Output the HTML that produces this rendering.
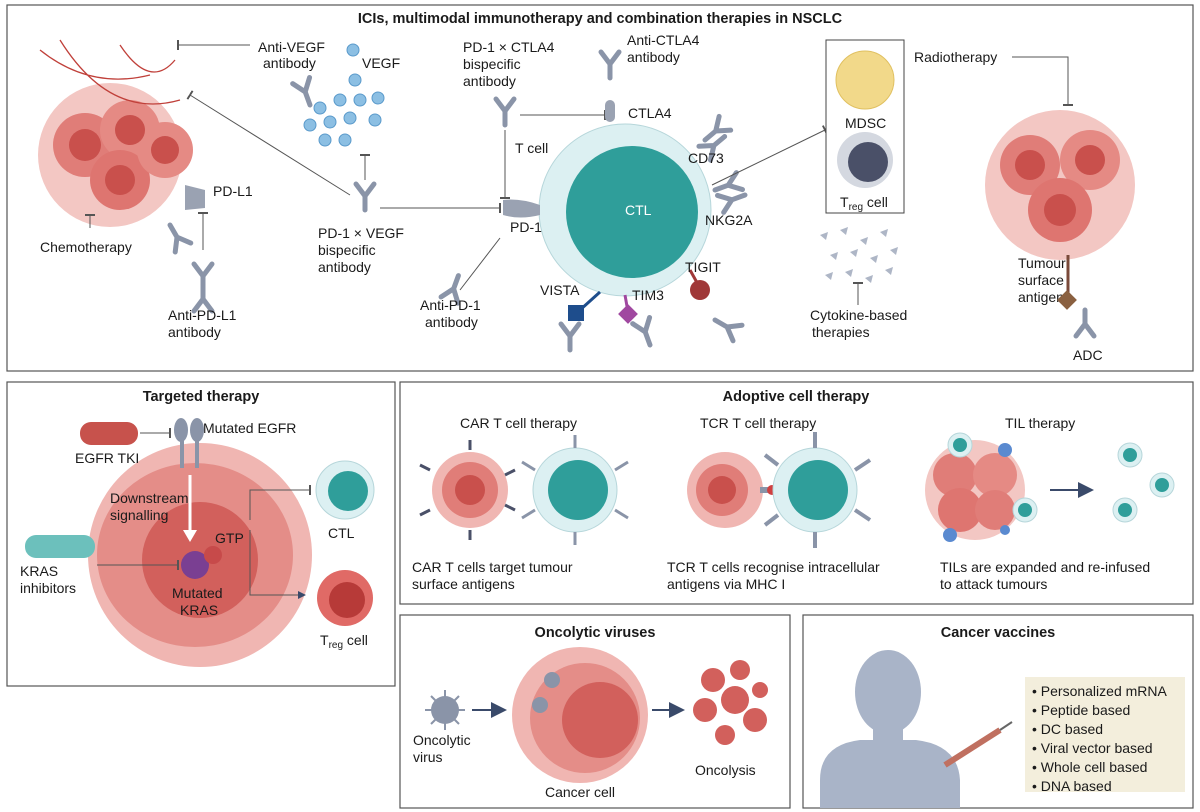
<!DOCTYPE html>
<html><head><meta charset="utf-8"><style>
html,body{margin:0;padding:0;background:#fff;}
svg{display:block;font-family:"Liberation Sans",sans-serif;}
text{font-size:14px;fill:#1a1a1a;}
.t{font-weight:bold;font-size:14.5px;}
</style></head><body>
<svg width="1200" height="812" viewBox="0 0 1200 812" xmlns="http://www.w3.org/2000/svg">
<defs>
<marker id="bar" markerWidth="2" markerHeight="10" refX="1" refY="5" orient="auto"><rect x="0" y="0" width="2" height="10" fill="#555"/></marker>
<marker id="arr" markerWidth="8" markerHeight="8" refX="7" refY="4" orient="auto"><path d="M0,0L8,4L0,8z" fill="#3a4a6a"/></marker>
<g id="ab"><path d="M0,0 L0,-14 M0,-14 L-9,-26 M0,-14 L9,-26" stroke="#8a94a8" stroke-width="5" fill="none" stroke-linecap="round"/></g>
</defs>
<g fill="none" stroke="#555" stroke-width="1.2">
<rect x="7" y="5" width="1186" height="366"/>
<rect x="7" y="382" width="388" height="304"/>
<rect x="400" y="382" width="793" height="222"/>
<rect x="400" y="615" width="390" height="193"/>
<rect x="803" y="615" width="390" height="193"/>
</g>
<text x="600" y="23" text-anchor="middle" class="t">ICIs, multimodal immunotherapy and combination therapies in NSCLC</text>
<text x="201" y="401" text-anchor="middle" class="t">Targeted therapy</text>
<text x="796" y="401" text-anchor="middle" class="t">Adoptive cell therapy</text>
<text x="595" y="637" text-anchor="middle" class="t">Oncolytic viruses</text>
<text x="998" y="637" text-anchor="middle" class="t">Cancer vaccines</text>

<g>
<circle cx="110" cy="155" r="72" fill="#f3c7c3"/>
<circle cx="85" cy="145" r="32" fill="#e07d78"/>
<circle cx="130" cy="130" r="30" fill="#e58a84"/>
<circle cx="120" cy="180" r="30" fill="#de7570"/>
<circle cx="165" cy="150" r="28" fill="#e58a84"/>
<circle cx="85" cy="145" r="16" fill="#c9504c"/>
<circle cx="130" cy="130" r="15" fill="#c9504c"/>
<circle cx="120" cy="180" r="15" fill="#c9504c"/>
<circle cx="165" cy="150" r="14" fill="#c9504c"/>
<path d="M40,50 Q90,90 150,75 M60,40 Q110,120 180,100 M120,45 Q150,90 175,60" stroke="#c0403a" stroke-width="1.3" fill="none"/>
</g>
<path d="M185,185 L205,190 L205,208 L185,210 Z" fill="#9aa2b2"/>
<text x="213" y="196">PD-L1</text>
<use href="#ab" x="170" y="225" transform="rotate(150 170 225)"/>
<line x1="90" y1="215" x2="90" y2="228" stroke="#555" marker-start="url(#bar)"/>
<text x="40" y="252">Chemotherapy</text>
<line x1="203" y1="213" x2="203" y2="250" stroke="#555" marker-start="url(#bar)"/>
<use href="#ab" x="203" y="290"/>
<g transform="rotate(180 203 270)"><use href="#ab" x="203" y="255"/></g>
<text x="168" y="320">Anti-PD-L1</text><text x="168" y="337">antibody</text>
<text x="258" y="52">Anti-VEGF</text><text x="263" y="68">antibody</text>
<line x1="250" y1="45" x2="178" y2="45" stroke="#555" marker-end="url(#bar)"/>
<use href="#ab" x="310" y="105" transform="rotate(-20 310 105)"/>
<g fill="#8cbfe3" stroke="#5a9acb">
<circle cx="320" cy="108" r="6"/><circle cx="340" cy="100" r="6"/><circle cx="310" cy="125" r="6"/><circle cx="330" cy="122" r="6"/><circle cx="350" cy="118" r="6"/><circle cx="355" cy="80" r="6"/><circle cx="345" cy="140" r="6"/><circle cx="378" cy="98" r="6"/><circle cx="360" cy="100" r="6"/><circle cx="375" cy="120" r="6"/><circle cx="353" cy="50" r="6"/><circle cx="325" cy="140" r="6"/>
</g>
<text x="362" y="68">VEGF</text>
<line x1="365" y1="155" x2="365" y2="180" stroke="#555" marker-start="url(#bar)"/>
<use href="#ab" x="365" y="210"/>
<line x1="350" y1="195" x2="190" y2="95" stroke="#555" marker-end="url(#bar)"/>
<line x1="380" y1="208" x2="500" y2="208" stroke="#555" marker-end="url(#bar)"/>
<text x="318" y="238">PD-1 × VEGF</text><text x="318" y="255">bispecific</text><text x="318" y="272">antibody</text>
<text x="463" y="52">PD-1 × CTLA4</text><text x="463" y="69">bispecific</text><text x="463" y="86">antibody</text>
<use href="#ab" x="505" y="125"/>
<line x1="520" y1="115" x2="605" y2="115" stroke="#555" marker-end="url(#bar)"/>
<line x1="505" y1="130" x2="505" y2="198" stroke="#555" marker-end="url(#bar)"/>
<text x="627" y="45">Anti-CTLA4</text><text x="627" y="62">antibody</text>
<use href="#ab" x="610" y="78"/>
<rect x="605" y="100" width="10" height="22" rx="5" fill="#9aa2b2"/>
<text x="628" y="118">CTLA4</text>
<circle cx="625" cy="210" r="86" fill="#dcf0f2" stroke="#b6d6da"/>
<circle cx="632" cy="212" r="66" fill="#2f9e9a"/>
<text x="625" y="215" style="fill:#fff">CTL</text>
<text x="515" y="153">T cell</text>
<path d="M503,200 Q520,198 540,205 L540,215 Q520,220 503,215Z" fill="#9aa2b2"/>
<text x="510" y="232">PD-1</text>
<line x1="500" y1="238" x2="460" y2="290" stroke="#555"/>
<use href="#ab" x="455" y="295" transform="rotate(200 455 285)"/>
<text x="420" y="310">Anti-PD-1</text><text x="425" y="327">antibody</text>
<use href="#ab" x="705" y="140" transform="rotate(50 705 140)"/>
<use href="#ab" x="700" y="125" transform="rotate(-130 715 125)"/>
<text x="688" y="163">CD73</text>
<use href="#ab" x="715" y="190" transform="rotate(70 715 190)"/>
<use href="#ab" x="745" y="195" transform="rotate(-110 745 195)"/>
<text x="705" y="225">NKG2A</text>
<line x1="690" y1="270" x2="700" y2="288" stroke="#a03838" stroke-width="3"/><circle cx="700" cy="290" r="10" fill="#a03838"/>
<text x="685" y="272">TIGIT</text>
<use href="#ab" x="715" y="320" transform="rotate(120 715 320)"/>
<line x1="600" y1="292" x2="580" y2="310" stroke="#1e4d8c" stroke-width="3"/><rect x="568" y="305" width="16" height="16" fill="#1e4d8c"/>
<text x="540" y="295">VISTA</text>
<use href="#ab" x="570" y="350"/>
<line x1="625" y1="295" x2="628" y2="312" stroke="#a048a0" stroke-width="3"/><rect x="621" y="307" width="14" height="14" fill="#a048a0" transform="rotate(45 628 314)"/>
<text x="632" y="300">TIM3</text>
<use href="#ab" x="650" y="345" transform="rotate(-20 650 345)"/>
<line x1="712" y1="185" x2="825" y2="130" stroke="#555" marker-end="url(#bar)"/>
<rect x="826" y="40" width="78" height="173" fill="#fff" stroke="#444"/>
<circle cx="865" cy="80" r="29" fill="#f2d98a" stroke="#e0c060"/>
<text x="845" y="128">MDSC</text>
<circle cx="865" cy="160" r="28" fill="#d4d8e0"/><circle cx="868" cy="162" r="20" fill="#4a5068"/>
<text x="840" y="207">T<tspan font-size="10" dy="3">reg</tspan><tspan dy="-3"> cell</tspan></text>
<g fill="#aeb6c6">
<path d="M820,235l8,-3l-2,8z"/><path d="M840,230l8,-3l-2,8z"/><path d="M860,240l8,-3l-2,8z"/><path d="M880,232l8,-3l-2,8z"/>
<path d="M830,255l8,-3l-2,8z"/><path d="M850,252l8,-3l-2,8z"/><path d="M870,258l8,-3l-2,8z"/><path d="M890,250l8,-3l-2,8z"/>
<path d="M825,275l8,-3l-2,8z"/><path d="M845,272l8,-3l-2,8z"/><path d="M865,278l8,-3l-2,8z"/><path d="M885,270l8,-3l-2,8z"/>
</g>
<line x1="858" y1="283" x2="858" y2="305" stroke="#555" marker-start="url(#bar)"/>
<text x="810" y="320">Cytokine-based</text><text x="812" y="337">therapies</text>
<text x="914" y="62">Radiotherapy</text>
<polyline points="1012,57 1068,57 1068,105" fill="none" stroke="#555" marker-end="url(#bar)"/>
<circle cx="1060" cy="185" r="75" fill="#f3c7c3"/>
<circle cx="1030" cy="165" r="30" fill="#e07d78"/><circle cx="1090" cy="160" r="30" fill="#e58a84"/><circle cx="1060" cy="210" r="32" fill="#de7570"/>
<circle cx="1030" cy="165" r="15" fill="#c9504c"/><circle cx="1090" cy="160" r="15" fill="#c9504c"/><circle cx="1060" cy="210" r="16" fill="#c9504c"/>
<text x="1018" y="268">Tumour</text><text x="1018" y="285">surface</text><text x="1018" y="302">antigen</text>
<line x1="1068" y1="255" x2="1068" y2="295" stroke="#7a4a3a" stroke-width="3"/>
<rect x="1060" y="293" width="14" height="14" fill="#8a6040" transform="rotate(45 1067 300)"/>
<use href="#ab" x="1085" y="340" transform="rotate(180 1085 325)"/>
<text x="1073" y="360">ADC</text>

<!-- Targeted therapy -->
<circle cx="200" cy="555" r="112" fill="#f0b6b2"/>
<ellipse cx="195" cy="555" rx="98" ry="92" fill="#e48d88"/>
<circle cx="200" cy="560" r="58" fill="#d2605c"/>
<rect x="80" y="422" width="58" height="23" rx="11" fill="#c7524c"/>
<text x="75" y="463">EGFR TKI</text>
<line x1="140" y1="433" x2="170" y2="433" stroke="#555" marker-end="url(#bar)"/>
<ellipse cx="181" cy="430" rx="7" ry="12" fill="#8a94a8"/><ellipse cx="197" cy="430" rx="7" ry="12" fill="#8a94a8"/>
<rect x="180" y="440" width="4" height="28" fill="#8a94a8"/><rect x="195" y="440" width="4" height="28" fill="#8a94a8"/>
<text x="203" y="433">Mutated EGFR</text>
<line x1="190" y1="475" x2="190" y2="535" stroke="#fff" stroke-width="3"/><path d="M183,530L190,542L197,530z" fill="#fff"/>
<text x="110" y="503">Downstream</text><text x="110" y="520">signalling</text>
<circle cx="195" cy="565" r="14" fill="#7a3f92"/><circle cx="213" cy="555" r="9" fill="#c74a4a"/>
<text x="215" y="543">GTP</text>
<text x="172" y="598">Mutated</text><text x="180" y="615">KRAS</text>
<rect x="25" y="535" width="70" height="23" rx="11" fill="#6cc0bc"/>
<text x="20" y="576">KRAS</text><text x="20" y="593">inhibitors</text>
<line x1="97" y1="565" x2="178" y2="565" stroke="#555" marker-end="url(#bar)"/>
<polyline points="250,520 250,490 310,490" fill="none" stroke="#555" marker-end="url(#bar)"/>
<polyline points="250,530 250,595 305,595" fill="none" stroke="#555" marker-end="url(#arr)"/>
<circle cx="345" cy="490" r="29" fill="#dcf0f2" stroke="#b6d6da"/><circle cx="348" cy="491" r="20" fill="#2f9e9a"/>
<text x="328" y="538">CTL</text>
<circle cx="345" cy="598" r="28" fill="#e06a66"/><circle cx="347" cy="600" r="18" fill="#b73a38"/>
<text x="320" y="645">T<tspan font-size="10" dy="3">reg</tspan><tspan dy="-3"> cell</tspan></text>

<!-- Adoptive -->
<text x="460" y="428">CAR T cell therapy</text>
<circle cx="470" cy="490" r="38" fill="#f0b6b2"/><circle cx="470" cy="490" r="28" fill="#e07d78"/><circle cx="470" cy="490" r="15" fill="#c9504c"/>
<g stroke="#4a5068" stroke-width="3"><line x1="430" y1="470" x2="420" y2="465"/><line x1="430" y1="510" x2="420" y2="515"/><line x1="470" y1="450" x2="470" y2="440"/><line x1="470" y1="530" x2="470" y2="540"/><line x1="505" y1="475" x2="515" y2="470"/><line x1="505" y1="505" x2="515" y2="510"/></g>
<circle cx="575" cy="490" r="42" fill="#dcf0f2" stroke="#b6d6da"/><circle cx="578" cy="490" r="30" fill="#2f9e9a"/>
<g stroke="#8a94a8" stroke-width="3"><line x1="575" y1="448" x2="575" y2="435"/><line x1="575" y1="532" x2="575" y2="545"/><line x1="535" y1="470" x2="522" y2="462"/><line x1="535" y1="510" x2="522" y2="518"/><line x1="615" y1="470" x2="628" y2="462"/><line x1="615" y1="510" x2="628" y2="518"/></g>
<text x="412" y="572">CAR T cells target tumour</text><text x="412" y="589">surface antigens</text>
<text x="700" y="428">TCR T cell therapy</text>
<circle cx="725" cy="490" r="38" fill="#f0b6b2"/><circle cx="722" cy="490" r="26" fill="#e07d78"/><circle cx="722" cy="490" r="14" fill="#c9504c"/>
<line x1="760" y1="490" x2="775" y2="490" stroke="#8a94a8" stroke-width="6"/><circle cx="772" cy="490" r="5" fill="#d04040"/>
<circle cx="815" cy="490" r="42" fill="#dcf0f2" stroke="#b6d6da"/><circle cx="818" cy="490" r="30" fill="#2f9e9a"/>
<g stroke="#8a94a8" stroke-width="4"><line x1="815" y1="448" x2="815" y2="432"/><line x1="815" y1="532" x2="815" y2="548"/><line x1="855" y1="470" x2="870" y2="460"/><line x1="855" y1="510" x2="870" y2="520"/><line x1="778" y1="465" x2="765" y2="455"/><line x1="778" y1="515" x2="765" y2="525"/></g>
<text x="667" y="572">TCR T cells recognise intracellular</text><text x="667" y="589">antigens via MHC I</text>
<text x="1005" y="428">TIL therapy</text>
<circle cx="975" cy="490" r="50" fill="#f3c7c3"/><circle cx="955" cy="475" r="22" fill="#e07d78"/><circle cx="995" cy="475" r="22" fill="#e58a84"/><circle cx="960" cy="510" r="22" fill="#de7570"/><circle cx="995" cy="510" r="20" fill="#e07d78"/>
<g fill="#dcf0f2" stroke="#b6d6da"><circle cx="960" cy="445" r="12"/><circle cx="1025" cy="510" r="12"/><circle cx="1130" cy="455" r="12"/><circle cx="1125" cy="510" r="12"/><circle cx="1162" cy="485" r="12" /></g>
<g fill="#2f9e9a"><circle cx="960" cy="445" r="7"/><circle cx="1025" cy="510" r="7"/><circle cx="1130" cy="455" r="7"/><circle cx="1125" cy="510" r="7"/><circle cx="1162" cy="485" r="7"/></g>
<g fill="#5a8ad0"><circle cx="1005" cy="450" r="7"/><circle cx="950" cy="535" r="7"/><circle cx="1005" cy="530" r="5"/></g>
<line x1="1050" y1="490" x2="1092" y2="490" stroke="#3a4a6a" stroke-width="2" marker-end="url(#arr)"/>
<text x="940" y="572">TILs are expanded and re-infused</text><text x="940" y="589">to attack tumours</text>

<!-- Oncolytic -->
<circle cx="445" cy="710" r="14" fill="#8a94a8"/>
<g stroke="#8a94a8" stroke-width="2"><line x1="425" y1="710" x2="465" y2="710"/><line x1="445" y1="690" x2="445" y2="730"/><line x1="431" y1="696" x2="459" y2="724"/><line x1="459" y1="696" x2="431" y2="724"/></g>
<text x="413" y="745">Oncolytic</text><text x="413" y="762">virus</text>
<line x1="472" y1="710" x2="505" y2="710" stroke="#3a4a6a" stroke-width="2" marker-end="url(#arr)"/>
<circle cx="580" cy="715" r="68" fill="#f0b6b2"/><circle cx="585" cy="718" r="55" fill="#e48d88"/><circle cx="600" cy="720" r="38" fill="#d2605c"/>
<circle cx="552" cy="680" r="8" fill="#8a94a8"/><circle cx="540" cy="705" r="8" fill="#8a94a8"/>
<text x="545" y="797">Cancer cell</text>
<line x1="652" y1="710" x2="683" y2="710" stroke="#3a4a6a" stroke-width="2" marker-end="url(#arr)"/>
<g fill="#d2605c"><circle cx="713" cy="680" r="12"/><circle cx="740" cy="670" r="10"/><circle cx="705" cy="710" r="12"/><circle cx="735" cy="700" r="14"/><circle cx="755" cy="720" r="12"/><circle cx="725" cy="735" r="10"/><circle cx="760" cy="690" r="8"/></g>
<text x="695" y="775">Oncolysis</text>

<!-- Vaccines -->
<ellipse cx="888" cy="692" rx="33" ry="42" fill="#a9b4c8"/>
<rect x="873" y="725" width="30" height="20" fill="#a9b4c8"/>
<path d="M820,808 L820,780 Q820,745 860,740 L916,740 Q958,745 960,780 L960,808 Z" fill="#a9b4c8"/>
<line x1="945" y1="765" x2="1000" y2="730" stroke="#c07060" stroke-width="6"/>
<line x1="1000" y1="730" x2="1012" y2="722" stroke="#666" stroke-width="2"/>
<rect x="1025" y="677" width="160" height="115" fill="#f3eedc"/>
<g font-size="14"><text x="1032" y="696">• Personalized mRNA</text><text x="1032" y="715">• Peptide based</text><text x="1032" y="734">• DC based</text><text x="1032" y="753">• Viral vector based</text><text x="1032" y="772">• Whole cell based</text><text x="1032" y="791">• DNA based</text></g>
</svg>
</body></html>
